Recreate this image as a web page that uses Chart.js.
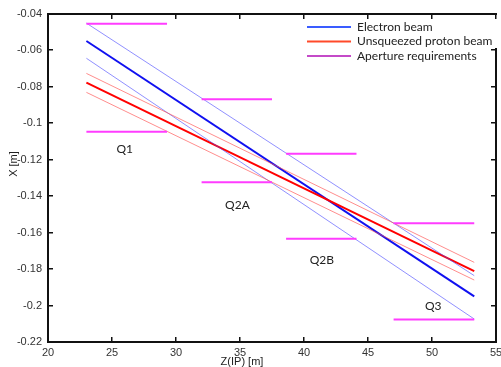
<!DOCTYPE html>
<html>
<head>
<meta charset="utf-8">
<script src="https://cdn.jsdelivr.net/npm/chart.js@4"></script>
<style>
  html, body { margin: 0; padding: 0; background: #fff; }
  canvas { display: block; }
</style>
</head>
<body>
<canvas id="myChart" width="501" height="367"></canvas>
<script>
// beam envelopes, z = distance from IP [m], x = transverse position [m]
const beamZ = [23, 53.3];
const electronCenter = [-0.0548, -0.195];
const electronUpper = [-0.045, -0.1836];
const electronLower = [-0.0643, -0.2074];
const protonCenter = [-0.0777, -0.1811];
const protonUpper = [-0.0726, -0.1763];
const protonLower = [-0.083, -0.186];

// magnet apertures
const magnetNames = ['Q1', 'Q2A', 'Q2B', 'Q3'];
const apertureStart = [23, 32, 38.6, 47];
const apertureEnd = [29.3, 37.5, 44.1, 53.3];
const apertureUpper = [-0.0453, -0.0868, -0.1167, -0.1549];
const apertureLower = [-0.1046, -0.1324, -0.1633, -0.2076];
const magnetLabelZ = [26, 34.8, 41.4, 50.1];
const magnetLabelX = [-0.114, -0.1448, -0.175, -0.2003];

const legendLabels = ['Electron beam', 'Unsqueezed proton beam', 'Aperture requirements'];

const xTicks = [20, 25, 30, 35, 40, 45, 50, 55];
const xTickLabels = ['20', '25', '30', '35', '40', '45', '50', '55'];
const yTicks = [-0.22, -0.2, -0.18, -0.16, -0.14, -0.12, -0.1, -0.08, -0.06, -0.04];
const yTickLabels = ['-0.22', '-0.2', '-0.18', '-0.16', '-0.14', '-0.12', '-0.1', '-0.08', '-0.06', '-0.04'];

const tickFont = { family: 'Liberation Sans, Arial, sans-serif', size: 11 };
const labelFont = '12px Lato, sans-serif';

function pts(zs, xs) {
    return zs.map((z, i) => ({ x: z, y: xs[i] }));
}

function lineSet(data, color, width) {
    return {
        data,
        borderColor: color,
        backgroundColor: color,
        borderWidth: width,
        pointRadius: 0,
        tension: 0,
        fill: false,
    };
}

const datasets = [];
magnetNames.forEach((name, i) => {
    const zs = [apertureStart[i], apertureEnd[i]];
    datasets.push(lineSet(pts(zs, [apertureUpper[i], apertureUpper[i]]), '#ff3cff', 2));
    datasets.push(lineSet(pts(zs, [apertureLower[i], apertureLower[i]]), '#ff3cff', 2));
});
datasets.push(lineSet(pts(beamZ, protonUpper), 'rgba(255,80,80,0.65)', 1));
datasets.push(lineSet(pts(beamZ, protonLower), 'rgba(255,80,80,0.65)', 1));
datasets.push(lineSet(pts(beamZ, electronUpper), 'rgba(70,70,255,0.6)', 1));
datasets.push(lineSet(pts(beamZ, electronLower), 'rgba(70,70,255,0.6)', 1));
datasets.push(lineSet(pts(beamZ, protonCenter), '#ff0000', 2));
datasets.push(lineSet(pts(beamZ, electronCenter), '#1010f0', 2));

const legendColors = ['#3a5cff', '#ff4a2a', '#c44ac8'];

function seg(ctx, x1, y1, x2, y2) {
    ctx.beginPath();
    ctx.moveTo(x1, y1);
    ctx.lineTo(x2, y2);
    ctx.stroke();
}

const overlay = {
    id: 'overlay',
    afterDraw(chart) {
        const ctx = chart.ctx;
        const x = chart.scales.x;
        const y = chart.scales.y;
        const L = Math.round(x.getPixelForValue(20));
        const R = Math.round(x.getPixelForValue(55));
        const T = Math.round(y.getPixelForValue(-0.04));
        const B = Math.round(y.getPixelForValue(-0.22));
        ctx.save();

        // frame as filled strips, legend box hides the top of the right edge
        ctx.fillStyle = '#111';
        ctx.fillRect(L - 1, T - 1, R - L + 2, 2);
        ctx.fillRect(L - 1, B - 1, R - L + 2, 2);
        ctx.fillRect(L - 1, T - 1, 2, B - T + 2);
        ctx.fillRect(R - 1, T + 34, 2, B - T - 33);
        // inward ticks on all sides
        xTicks.forEach(v => {
            const px = Math.round(x.getPixelForValue(v));
            ctx.fillRect(px - 1, B - 5, 1.5, 5);
            ctx.fillRect(px - 1, T, 1.5, 5);
        });
        yTicks.forEach(v => {
            const py = Math.round(y.getPixelForValue(v));
            ctx.fillRect(L, py - 1, 5, 1.5);
            if (py > T + 30) ctx.fillRect(R - 5, py - 1, 5, 1.5);
        });

        // magnet names
        ctx.fillStyle = '#222';
        ctx.font = labelFont;
        ctx.textAlign = 'center';
        ctx.textBaseline = 'middle';
        magnetNames.forEach((name, i) => {
            ctx.fillText(name, x.getPixelForValue(magnetLabelZ[i]), y.getPixelForValue(magnetLabelX[i]));
        });

        // legend
        ctx.textAlign = 'left';
        legendLabels.forEach((label, i) => {
            const ly = 27 + i * 14.5;
            ctx.strokeStyle = legendColors[i];
            ctx.lineWidth = 2;
            seg(ctx, 307, ly, 351, ly);
            ctx.fillStyle = '#222';
            ctx.fillText(label, 357, ly);
        });

        // axis titles
        ctx.font = '11px Liberation Sans, Arial, sans-serif';
        ctx.fillStyle = '#222';
        ctx.textAlign = 'center';
        ctx.fillText('Z(IP) [m]', 242, 362);
        ctx.translate(14, 164);
        ctx.rotate(-Math.PI / 2);
        ctx.fillText('X [m]', 0, 0);

        ctx.restore();
    },
};

new Chart(document.getElementById('myChart').getContext('2d'), {
    type: 'line',
    data: { datasets },
    options: {
        responsive: false,
        animation: false,
        devicePixelRatio: 1,
        layout: { padding: { left: 0, right: 5, top: 14, bottom: 0 } },
        plugins: {
            legend: { display: false },
            tooltip: { enabled: false },
        },
        scales: {
            x: {
                type: 'linear',
                min: 20,
                max: 55,
                grid: { display: false, drawTicks: false },
                border: { display: false },
                afterBuildTicks: scale => { scale.ticks = xTicks.map(v => ({ value: v })); },
                afterFit: scale => {
                    scale.height = 25;
                    scale.paddingLeft = 0;
                    scale.paddingRight = 0;
                },
                ticks: {
                    autoSkip: false,
                    maxRotation: 0,
                    padding: 4,
                    color: '#333',
                    font: tickFont,
                    callback: (v, i) => xTickLabels[i],
                },
            },
            y: {
                type: 'linear',
                min: -0.22,
                max: -0.04,
                grid: { display: false, drawTicks: false },
                border: { display: false },
                afterBuildTicks: scale => { scale.ticks = yTicks.map(v => ({ value: v })); },
                afterFit: scale => {
                    scale.width = 48;
                    scale.paddingTop = 0;
                    scale.paddingBottom = 0;
                },
                ticks: {
                    autoSkip: false,
                    padding: 6,
                    color: '#333',
                    font: tickFont,
                    callback: (v, i) => yTickLabels[i],
                },
            },
        },
    },
    plugins: [overlay],
});
</script>
</body>
</html>
